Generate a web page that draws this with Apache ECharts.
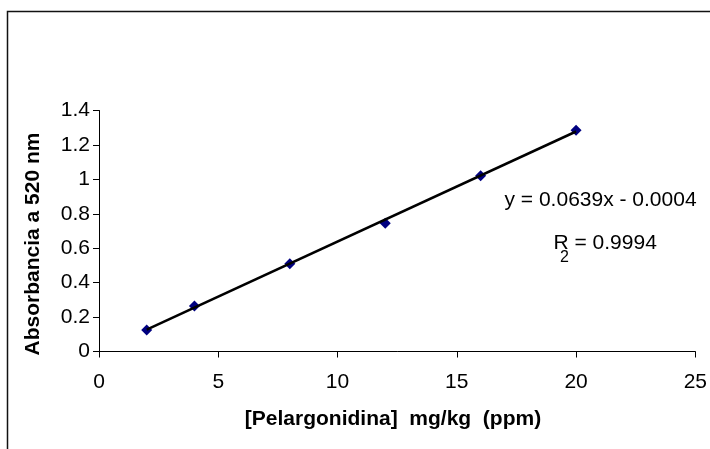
<!DOCTYPE html>
<html>
<head>
<meta charset="utf-8">
<script src="https://cdn.jsdelivr.net/npm/echarts@6/dist/echarts.min.js"></script>
<style>
html,body{margin:0;padding:0;background:#fff;}
#chart{width:710px;height:449px;}
</style>
</head>
<body>
<div id="chart"></div>
<script>
// Data
const concentrations = [2, 4, 8, 12, 16, 20];          // [Pelargonidina] mg/kg (ppm)
const absorbances   = [0.125, 0.264, 0.510, 0.745, 1.021, 1.285]; // Absorbancia a 520 nm
const trendX = [2, 20];                                 // trendline extent
const trendY = [0.127, 1.278];                          // trendline ends (y = 0.0639x - 0.0004)
const xTicks = [0, 5, 10, 15, 20, 25];
const yTicks = [0, 0.2, 0.4, 0.6, 0.8, 1, 1.2, 1.4];
const xTitle = '[Pelargonidina]  mg/kg  (ppm)';
const yTitle = 'Absorbancia a 520 nm';
const eqText = 'y = 0.0639x - 0.0004';
const r2Text = 'R = 0.9994';
const r2Sub = '2';

const FONT = "'Liberation Sans', Arial, sans-serif";
const chart = echarts.init(document.getElementById('chart'), null, {renderer: 'canvas'});

const points = concentrations.map((x, i) => [x, absorbances[i]]);
const trend = trendX.map((x, i) => [x, trendY[i]]);

chart.setOption({
  animation: false,
  backgroundColor: '#ffffff',
  grid: {left: 99, top: 110.5, width: 600, height: 241, containLabel: false},
  xAxis: {
    type: 'value', min: xTicks[0], max: xTicks[xTicks.length - 1], interval: 5,
    axisLine: {lineStyle: {color: '#000', width: 1}},
    axisTick: {show: true, length: 6, lineStyle: {color: '#000'}},
    splitLine: {show: false},
    axisLabel: {color: '#000', fontSize: 21, fontFamily: FONT, margin: 20}
  },
  yAxis: {
    type: 'value', min: yTicks[0], max: yTicks[yTicks.length - 1], interval: 0.2,
    axisLine: {show: true, lineStyle: {color: '#000', width: 1}},
    axisTick: {show: true, length: 6, lineStyle: {color: '#000'}},
    splitLine: {show: false},
    axisLabel: {color: '#000', fontSize: 21, fontFamily: FONT, margin: 9,
      formatter: v => String(Math.round(v * 10) / 10)}
  },
  series: [
    {
      type: 'scatter', data: points, symbol: 'diamond', symbolSize: 11,
      itemStyle: {color: '#000080', opacity: 1}, z: 2
    },
    {
      type: 'line', data: trend, showSymbol: false, symbol: 'none',
      lineStyle: {color: '#000', width: 2.5}, z: 3, silent: true
    }
  ],
  graphic: [
    {type: 'rect', shape: {x: 7.5, y: 11.5, width: 800, height: 500},
     style: {fill: 'none', stroke: '#111', lineWidth: 1.5}, silent: true, z: 100},
    {type: 'text', x: 33, y: 244, rotation: Math.PI / 2,
     style: {text: yTitle, font: 'bold 21px ' + FONT, fill: '#000', align: 'center', verticalAlign: 'middle'}},
    {type: 'text', x: 393, y: 419,
     style: {text: xTitle, font: 'bold 21px ' + FONT, fill: '#000', align: 'center', verticalAlign: 'middle'}},
    {type: 'text', x: 504.5, y: 200.5,
     style: {text: eqText, font: '21px ' + FONT, fill: '#000', align: 'left', verticalAlign: 'middle'}},
    {type: 'text', x: 553.5, y: 243.5,
     style: {text: r2Text, font: '21px ' + FONT, fill: '#000', align: 'left', verticalAlign: 'middle'}},
    {type: 'text', x: 560, y: 257.5,
     style: {text: r2Sub, font: '16px ' + FONT, fill: '#000', align: 'left', verticalAlign: 'middle'}}
  ]
});
</script>
</body>
</html>
